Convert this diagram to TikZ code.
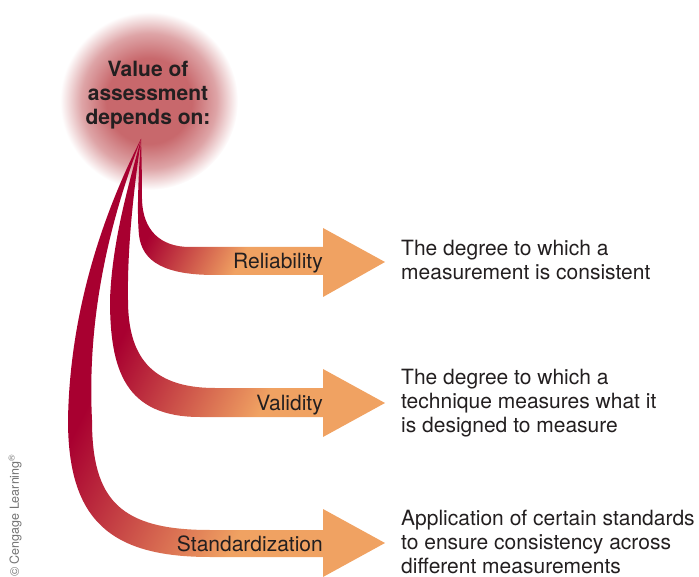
\documentclass[tikz,border=0pt]{standalone}
\usepackage{fontspec}
\setmainfont{TeX Gyre Heros}
\usetikzlibrary{positioning}

\definecolor{crimson}{RGB}{168,0,48}
\definecolor{peach}{RGB}{240,162,98}
\definecolor{glowred}{RGB}{200,104,108}
\definecolor{inkgray}{RGB}{35,31,32}

% soft disc behind the heading
\pgfdeclareradialshading{glow}{\pgfpoint{0bp}{0bp}}{color(0bp)=(glowred); color(12bp)=(glowred); color(19bp)=(glowred!60); color(25bp)=(white); color(50bp)=(white)}
% one fade per arrow, red stem to orange shaft
\pgfdeclarehorizontalshading{relfade}{100bp}{color(0bp)=(crimson); color(32.9bp)=(crimson); color(40.7bp)=(peach); color(100bp)=(peach)}
\pgfdeclarehorizontalshading{valfade}{100bp}{color(0bp)=(crimson); color(34.7bp)=(crimson); color(47.8bp)=(peach); color(100bp)=(peach)}
\pgfdeclarehorizontalshading{stdfade}{100bp}{color(0bp)=(crimson); color(34.7bp)=(crimson); color(50.8bp)=(peach); color(100bp)=(peach)}

\begin{document}
\begin{tikzpicture}[x=1pt, y=-1pt,
        heading/.style={inner sep=0pt, align=center, text=inkgray, font={\fontsize{21}{24}\selectfont\bfseries}},
        tag/.style={inner sep=0pt, anchor=base east, text=inkgray, font={\fontsize{21}{24}\selectfont}},
        note/.style={inner sep=0pt, anchor=base west, align=left, text=inkgray, font={\fontsize{21}{24}\selectfont}},
        credit/.style={inner sep=0pt, rotate=90, anchor=base west, text=black!55, font={\fontsize{12.5}{14}\selectfont}},
        fade/.style={shading=#1, shading angle=-26.57}
    ]
        \useasboundingbox (0,0) rectangle (699,577);

        % Glow
        \shade[shading=glow] (149,101) circle (89);
        \coordinate (root) at (141,139);

        % Arrows (tips and shafts)
        \begin{scope}
            \clip (root) .. controls (138,180) and (137,215) .. (139,235)
                .. controls (142,262) and (165,275) .. (215,275) -- (323,275) -- (323,297) -- (385,262)
                -- (323,228) -- (323,247) -- (190,247) .. controls (160,247) and (143,230) .. (142,200)
                .. controls (142,175) and (141.5,155) .. (root) -- cycle;
            \shade[fade=relfade] (50,-10) rectangle (650,590);
        \end{scope}
        \begin{scope}
            \clip (root) .. controls (130,180) and (112,240) .. (110,300)
                .. controls (110,370) and (125,417) .. (200,417) -- (323,417) -- (323,437) -- (385,403)
                -- (323,369) -- (323,388) -- (215,388) .. controls (150,388) and (128,355) .. (128,300)
                .. controls (127,240) and (136,175) .. (root) -- cycle;
            \shade[fade=valfade] (50,-10) rectangle (650,590);
        \end{scope}
        \begin{scope}
            \clip (root) .. controls (110,200) and (70,300) .. (68,420)
                .. controls (68,520) and (110,557) .. (210,557) -- (323,557) -- (323,577) -- (385,543)
                -- (323,509) -- (323,530) -- (210,530) .. controls (120,530) and (92,500) .. (92,420)
                .. controls (86,300) and (118,200) .. (root) -- cycle;
            \shade[fade=stdfade] (50,-10) rectangle (650,590);
        \end{scope}

        % Heading
        \node (title) [heading, anchor=base] at (148,125) {Value of\\assessment\\depends on:};

        % Labels on the shafts
        \node (rel) [tag] at (323,269) {Reliability};
        \node (val) [tag] at (323,410) {Validity};
        \node (std) [tag] at (323,551) {Standardization};

        % Descriptions
        \node (reldesc) [note] at (401,280) {The degree to which a\\measurement is consistent};
        \node (valdesc) [note] at (401,432) {The degree to which a\\technique measures what it\\is designed to measure};
        \node (stddesc) [note] at (401,573) {Application of certain standards\\to ensure consistency across\\different measurements};

        \node (source) [credit] at (19,577) {\textcopyright{} Cengage Learning\textsuperscript{\textregistered}};
    \end{tikzpicture}
\end{document}
